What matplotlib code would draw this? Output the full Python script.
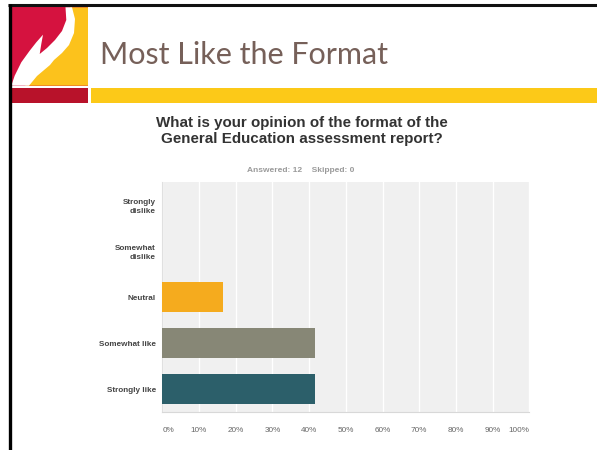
import matplotlib.pyplot as plt
from matplotlib.patches import Polygon, Rectangle

W, H = 597, 450

# survey data
answers = ["Strongly\ndislike", "Somewhat\ndislike", "Neutral", "Somewhat like", "Strongly like"]
share = [0.0, 0.0, 2 / 12 * 100, 5 / 12 * 100, 5 / 12 * 100]
bar_colors = ["#D5103F", "#F5AB1E", "#F5AB1E", "#878776", "#2C5F6A"]
ticks = [0, 10, 20, 30, 40, 50, 60, 70, 80, 90, 100]
tick_labels = [f"{t}%" for t in ticks]
question = "What is your opinion of the format of the\nGeneral Education assessment report?"
answered = "Answered: 12    Skipped: 0"
slide_title = "Most Like the Format"

# white flame of the logo, slide pixel coordinates
flame = [(11.3, 85.7), (14.7, 75.7), (21.3, 62.3), (29.7, 50.7), (36.3, 42.3), (43, 34.7),
         (41.3, 44), (39.7, 54), (47, 48), (55, 40), (62, 31), (66.3, 20), (65.5, 7.3),
         (72, 7.3), (75, 19), (74, 33), (69, 45), (62, 53), (54, 60),
         (50, 65), (37, 76), (29, 85.7)]
yellow_part = [(70, 7.3), (88, 7.3), (88, 85.7), (25, 85.7), (50, 60), (70, 30)]


def fx(x):
    return x / W


def fy(y):
    return 1 - y / H


fig = plt.figure(figsize=(W / 100, H / 100), dpi=100)
fig.patch.set_facecolor("white")

# slide decorations drawn in pixel space
deco = fig.add_axes([0, 0, 1, 1])
deco.set_xlim(0, W)
deco.set_ylim(H, 0)
deco.axis("off")
deco.add_patch(Rectangle((11.3, 7.3), 76.7, 78.4, color="#D5123F", lw=0))
deco.add_patch(Polygon(yellow_part, closed=True, color="#FCC21C", lw=0))
deco.add_patch(Polygon(flame, closed=True, color="white", lw=0))
deco.add_patch(Rectangle((11.3, 88), 76.7, 15, color="#B8122A", lw=0))
deco.add_patch(Rectangle((91, 88), 506, 15, color="#FCC918", lw=0))
deco.plot([8, W], [5.2, 5.2], color="#111111", lw=2.2, solid_capstyle="butt")
deco.plot([9.6, 9.6], [4, H], color="#000000", lw=2.4, solid_capstyle="butt")

fig.text(fx(100), fy(64), slide_title, fontsize=22, color="#766059",
         family="Lato", ha="left", va="baseline")

# chart
ax = fig.add_axes([fx(162.3), fy(412), 367 / W, 230 / H])
ax.set_facecolor("#F0F0F0")
ypos = list(range(len(answers)))
ax.barh(ypos, share, height=0.652, color=bar_colors, linewidth=0, zorder=3)
ax.set_xlim(0, 100)
ax.set_ylim(len(answers) - 0.5, -0.5)
ax.set_xticks(ticks)
ax.set_xticklabels(tick_labels, fontsize=5.9, color="#666666", family="Liberation Sans")
labs = ax.get_xticklabels()
labs[0].set_ha("left")
labs[-1].set_ha("right")
ax.set_yticks(ypos)
ax.set_yticklabels(answers, fontsize=5.9, color="#444444", fontweight="bold",
                   family="Liberation Sans", linespacing=1.35)
ax.tick_params(axis="both", length=0)
ax.tick_params(axis="x", pad=11)
ax.tick_params(axis="y", pad=4.5)
ax.grid(axis="x", color="white", lw=1, zorder=1)
ax.set_axisbelow(True)
for s in ["top", "right"]:
    ax.spines[s].set_visible(False)
ax.spines["bottom"].set_color("#D8D8D8")
ax.spines["left"].set_color("#E0E0E0")

fig.text(fx(301.5), fy(131), question, fontsize=10.9, fontweight="bold", color="#333333",
         family="Liberation Sans", ha="center", va="center", linespacing=1.1)
fig.text(fx(300.5), fy(171), answered, fontsize=6, fontweight="bold", color="#9A9A9A",
         family="Liberation Sans", ha="center", va="center")

fig.savefig("out.png", dpi=100)
